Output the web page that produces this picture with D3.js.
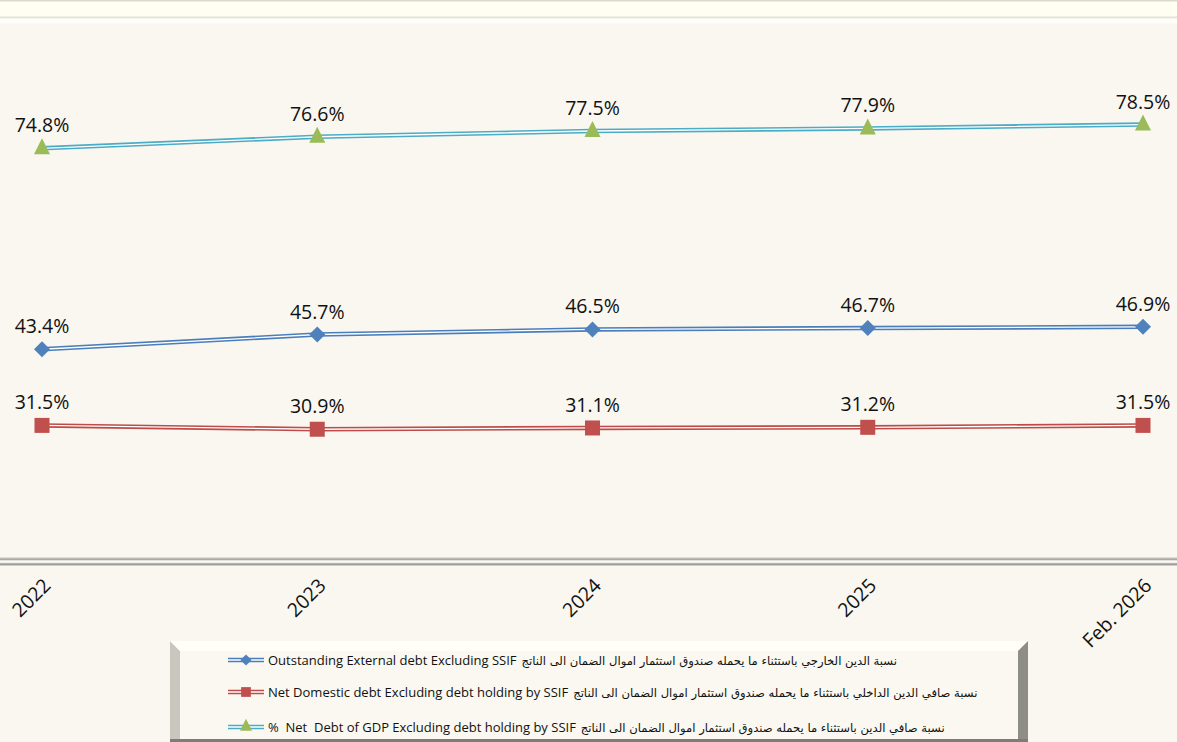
<!DOCTYPE html>
<html>
<head>
<meta charset="utf-8">
<script src="https://cdn.jsdelivr.net/npm/d3@7/dist/d3.min.js"></script>
<style>
  html, body { margin: 0; padding: 0; background: #f9f7f0; }
  svg { display: block; }
</style>
</head>
<body>
<svg id="chart" width="1177" height="742"></svg>
<script>
// Categories on the horizontal axis
const categories = ["2022", "2023", "2024", "2025", "Feb. 2026"];

// Series values (% of GDP)
const externalDebt = [43.4, 45.7, 46.5, 46.7, 46.9];
const domesticDebt = [31.5, 30.9, 31.1, 31.2, 31.5];
const netDebtGdp   = [74.8, 76.6, 77.5, 77.9, 78.5];

// Legend texts (Arabic + English)
const legendArabic = [
  "نسبة الدين الخارجي باستثناء ما يحمله صندوق استثمار اموال الضمان الى الناتج",
  "نسبة صافي الدين الداخلي باستثناء ما يحمله صندوق استثمار اموال الضمان الى الناتج",
  "نسبة صافي الدين باستثناء ما يحمله صندوق استثمار اموال الضمان الى الناتج"
];
const legendEnglish = [
  "Outstanding External debt Excluding SSIF",
  "Net Domestic debt Excluding debt holding by SSIF",
  "%  Net  Debt of GDP Excluding debt holding by SSIF"
];

const svg = d3.select("#chart");
const W = 1177, H = 742;

const series = [
  { values: netDebtGdp,   color: "#4bacc6", marker: "triangle", fill: "#9bbb59" },
  { values: externalDebt, color: "#4a7ebb", marker: "diamond",  fill: "#4f81bd" },
  { values: domesticDebt, color: "#be4b48", marker: "square",   fill: "#c0504d" }
];

// Background
svg.append("rect").attr("width", W).attr("height", H).attr("fill", "#f9f7f0");

// Top frame band
svg.append("rect").attr("x", 0).attr("y", 0).attr("width", W).attr("height", 18).attr("fill", "#fefef3");
svg.append("rect").attr("x", 0).attr("y", 0).attr("width", W).attr("height", 1.5).attr("fill", "#dcd9cb");
svg.append("rect").attr("x", 0).attr("y", 16.5).attr("width", W).attr("height", 2).attr("fill", "#e4e1d3");
svg.append("rect").attr("x", 0).attr("y", 18.5).attr("width", W).attr("height", 5).attr("fill", "#fefefb");

// Scales
const x = d3.scalePoint().domain(categories).range([42, 1143]);
const y = d3.scaleLinear().domain([10, 94]).range([563, 25.4]);

// Category axis baseline (embossed double rule)
const defs = svg.append("defs");
const g1 = defs.append("linearGradient").attr("id", "axisGrad").attr("x1", 0).attr("y1", 0).attr("x2", 0).attr("y2", 1);
[["0%", "#f3f1ea"], ["25%", "#9d9c95"], ["45%", "#ffffff"], ["60%", "#f4f3ee"], ["80%", "#8f8e88"], ["100%", "#e9e7df"]]
  .forEach(([o, c]) => g1.append("stop").attr("offset", o).attr("stop-color", c));
svg.append("rect").attr("x", 0).attr("y", 557).attr("width", W).attr("height", 9).attr("fill", "url(#axisGrad)");

// Axis tick labels
const xAxis = d3.axisBottom(x).tickSize(0).tickPadding(0);
const axisG = svg.append("g").call(xAxis);
axisG.select(".domain").remove();
axisG.selectAll(".tick text")
  .attr("transform", d => `translate(${x(d) + 5},582) rotate(-45)`)
  .attr("x", 0).attr("y", 0).attr("dy", "0.35em")
  .attr("text-anchor", "end")
  .attr("font-family", "'Open Sans', 'DejaVu Sans', sans-serif")
  .attr("font-size", 19.5)
  .attr("fill", "#111");
axisG.selectAll(".tick").attr("transform", null);

// Lines and markers
const line = d3.line().x((d, i) => x(categories[i])).y(d => y(d));

function drawMarker(g, type, cx, cy, fill) {
  if (type === "triangle") {
    g.append("path").attr("d", `M${cx},${cy - 10}L${cx + 8},${cy + 6}L${cx - 8},${cy + 6}Z`).attr("fill", fill);
  } else if (type === "diamond") {
    g.append("path").attr("d", `M${cx},${cy - 8}L${cx + 8},${cy}L${cx},${cy + 8}L${cx - 8},${cy}Z`).attr("fill", fill);
  } else {
    g.append("rect").attr("x", cx - 7.5).attr("y", cy - 7.5).attr("width", 15).attr("height", 15).attr("fill", fill);
  }
}

series.forEach(s => {
  const g = svg.append("g");
  g.append("path").datum(s.values).attr("d", line).attr("fill", "none")
    .attr("stroke", s.color).attr("stroke-width", 4.5);
  g.append("path").datum(s.values).attr("d", line).attr("fill", "none")
    .attr("stroke", "#ffffff").attr("stroke-width", 1.3);
  s.values.forEach((v, i) => drawMarker(g, s.marker, x(categories[i]), y(v), s.fill));
  g.selectAll("text.lbl").data(s.values).enter().append("text")
    .attr("class", "lbl")
    .attr("x", (d, i) => x(categories[i]))
    .attr("y", d => y(d) - 16)
    .attr("text-anchor", "middle")
    .attr("font-family", "'Open Sans', 'DejaVu Sans', sans-serif")
    .attr("font-size", 19.5)
    .attr("fill", "#111")
    .text(d => d.toFixed(1) + "%");
});

// Legend box with bevelled edges
const lx0 = 170, lx1 = 1028, ly0 = 641, bev = 10;
const lg = svg.append("g");
lg.append("path").attr("d", `M${lx0},${ly0}L${lx0 + bev},${ly0 + bev}L${lx0 + bev},${H}L${lx0},${H}Z`).attr("fill", "#c9c7bd");
lg.append("path").attr("d", `M${lx0},${ly0}L${lx1},${ly0}L${lx1 - bev},${ly0 + bev}L${lx0 + bev},${ly0 + bev}Z`).attr("fill", "#fffff6");
lg.append("path").attr("d", `M${lx1},${ly0}L${lx1},${H}L${lx1 - bev},${H}L${lx1 - bev},${ly0 + bev}Z`).attr("fill", "#8f8e86");
lg.append("rect").attr("x", lx0 + bev).attr("y", ly0 + bev).attr("width", lx1 - lx0 - 2 * bev).attr("height", H - ly0 - bev).attr("fill", "#faf8f0");
lg.append("rect").attr("x", lx0).attr("y", H - 3).attr("width", lx1 - lx0).attr("height", 3).attr("fill", "#7d7c76");

const legendOrder = [series[1], series[2], series[0]];
const legendY = [660, 692, 727];
legendOrder.forEach((s, i) => {
  const yy = legendY[i];
  const sg = lg.append("g");
  sg.append("line").attr("x1", 228).attr("x2", 264).attr("y1", yy).attr("y2", yy)
    .attr("stroke", s.color).attr("stroke-width", 4.5);
  sg.append("line").attr("x1", 228).attr("x2", 264).attr("y1", yy).attr("y2", yy)
    .attr("stroke", "#ffffff").attr("stroke-width", 1.3);
  const ms = { triangle: 0.75, diamond: 0.7, square: 0.65 }[s.marker];
  const mg = sg.append("g").attr("transform", `translate(246,${yy}) scale(${ms})`);
  drawMarker(mg, s.marker, 0, s.marker === "triangle" ? -1 : 0, s.fill);

  const en = lg.append("text")
    .attr("x", 268).attr("y", yy + 5)
    .attr("font-family", "'Open Sans', 'DejaVu Sans', sans-serif")
    .attr("font-size", 13)
    .attr("fill", "#111")
    .style("white-space", "pre")
    .text(legendEnglish[i]);
  const w = en.node().getComputedTextLength();
  lg.append("text")
    .attr("x", 268 + w + 5).attr("y", yy + 5)
    .attr("font-family", "'DejaVu Sans', sans-serif")
    .attr("font-size", 11.6)
    .attr("fill", "#111")
    .text(legendArabic[i]);
});
</script>
</body>
</html>
